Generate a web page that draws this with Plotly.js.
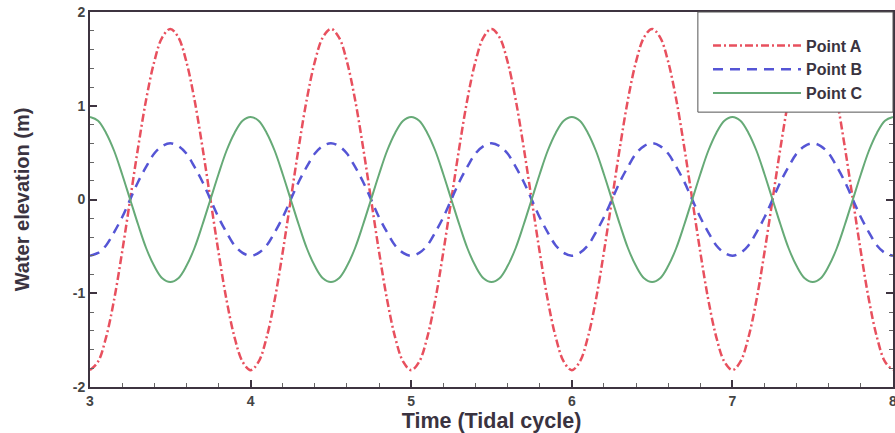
<!DOCTYPE html>
<html>
<head>
<meta charset="utf-8">
<script src="https://cdn.plot.ly/plotly-3.0.1.min.js"></script>
<style>html,body{margin:0;padding:0;background:#fff;}#chart{width:895px;height:433px;}</style>
</head>
<body>
<div id="chart"></div>
<script>
var time = [3.00,3.05,3.10,3.15,3.20,3.25,3.30,3.35,3.40,3.45,3.50,3.55,3.60,3.65,3.70,3.75,3.80,3.85,3.90,3.95,
            4.00,4.05,4.10,4.15,4.20,4.25,4.30,4.35,4.40,4.45,4.50,4.55,4.60,4.65,4.70,4.75,4.80,4.85,4.90,4.95,
            5.00,5.05,5.10,5.15,5.20,5.25,5.30,5.35,5.40,5.45,5.50,5.55,5.60,5.65,5.70,5.75,5.80,5.85,5.90,5.95,
            6.00,6.05,6.10,6.15,6.20,6.25,6.30,6.35,6.40,6.45,6.50,6.55,6.60,6.65,6.70,6.75,6.80,6.85,6.90,6.95,
            7.00,7.05,7.10,7.15,7.20,7.25,7.30,7.35,7.40,7.45,7.50,7.55,7.60,7.65,7.70,7.75,7.80,7.85,7.90,7.95,8.00];
var pointA = [-1.82,-1.73,-1.47,-1.07,-0.56,0,0.56,1.07,1.47,1.73,1.82,1.73,1.47,1.07,0.56,0,-0.56,-1.07,-1.47,-1.73,
              -1.82,-1.73,-1.47,-1.07,-0.56,0,0.56,1.07,1.47,1.73,1.82,1.73,1.47,1.07,0.56,0,-0.56,-1.07,-1.47,-1.73,
              -1.82,-1.73,-1.47,-1.07,-0.56,0,0.56,1.07,1.47,1.73,1.82,1.73,1.47,1.07,0.56,0,-0.56,-1.07,-1.47,-1.73,
              -1.82,-1.73,-1.47,-1.07,-0.56,0,0.56,1.07,1.47,1.73,1.82,1.73,1.47,1.07,0.56,0,-0.56,-1.07,-1.47,-1.73,
              -1.82,-1.73,-1.47,-1.07,-0.56,0,0.56,1.07,1.47,1.73,1.82,1.73,1.47,1.07,0.56,0,-0.56,-1.07,-1.47,-1.73,-1.82];
var pointB = [-0.60,-0.57,-0.49,-0.35,-0.19,0,0.19,0.35,0.49,0.57,0.60,0.57,0.49,0.35,0.19,0,-0.19,-0.35,-0.49,-0.57,
              -0.60,-0.57,-0.49,-0.35,-0.19,0,0.19,0.35,0.49,0.57,0.60,0.57,0.49,0.35,0.19,0,-0.19,-0.35,-0.49,-0.57,
              -0.60,-0.57,-0.49,-0.35,-0.19,0,0.19,0.35,0.49,0.57,0.60,0.57,0.49,0.35,0.19,0,-0.19,-0.35,-0.49,-0.57,
              -0.60,-0.57,-0.49,-0.35,-0.19,0,0.19,0.35,0.49,0.57,0.60,0.57,0.49,0.35,0.19,0,-0.19,-0.35,-0.49,-0.57,
              -0.60,-0.57,-0.49,-0.35,-0.19,0,0.19,0.35,0.49,0.57,0.60,0.57,0.49,0.35,0.19,0,-0.19,-0.35,-0.49,-0.57,-0.60];
var pointC = [0.88,0.84,0.71,0.52,0.27,0,-0.27,-0.52,-0.71,-0.84,-0.88,-0.84,-0.71,-0.52,-0.27,0,0.27,0.52,0.71,0.84,
              0.88,0.84,0.71,0.52,0.27,0,-0.27,-0.52,-0.71,-0.84,-0.88,-0.84,-0.71,-0.52,-0.27,0,0.27,0.52,0.71,0.84,
              0.88,0.84,0.71,0.52,0.27,0,-0.27,-0.52,-0.71,-0.84,-0.88,-0.84,-0.71,-0.52,-0.27,0,0.27,0.52,0.71,0.84,
              0.88,0.84,0.71,0.52,0.27,0,-0.27,-0.52,-0.71,-0.84,-0.88,-0.84,-0.71,-0.52,-0.27,0,0.27,0.52,0.71,0.84,
              0.88,0.84,0.71,0.52,0.27,0,-0.27,-0.52,-0.71,-0.84,-0.88,-0.84,-0.71,-0.52,-0.27,0,0.27,0.52,0.71,0.84,0.88];
var seriesNames = ['Point A','Point B','Point C'];
var xTickVals = [3,4,5,6,7,8];
var xTickText = ['3','4','5','6','7','8'];
var yTickVals = [-2,-1,0,1,2];
var yTickText = ['-2','-1','0','1','2'];

var axisColor = '#3e3440';
var textColor = '#3a3340';

var traces = [
  {x: time, y: pointA, name: seriesNames[0], mode: 'lines', line: {color: '#e8505e', width: 2.5, dash: '8px,3px,2px,3px', shape: 'spline'}},
  {x: time, y: pointB, name: seriesNames[1], mode: 'lines', line: {color: '#5555d5', width: 2.5, dash: '10px,7px', shape: 'spline'}},
  {x: time, y: pointC, name: seriesNames[2], mode: 'lines', line: {color: '#66aa77', width: 2, shape: 'spline'}}
];

var layout = {
  width: 895, height: 433,
  margin: {l: 90, r: 2, t: 12, b: 46},
  paper_bgcolor: '#ffffff', plot_bgcolor: '#ffffff',
  font: {family: 'Liberation Sans, Arial, sans-serif', color: textColor},
  showlegend: true,
  legend: {
    x: 0.7696, y: 0.956, xanchor: 'left', yanchor: 'top',
    bgcolor: 'rgba(0,0,0,0)', borderwidth: 0,
    font: {size: 16, weight: 'bold', color: textColor},
    itemwidth: 88, tracegroupgap: 0
  },
  shapes: [
    {type: 'rect', xref: 'paper', yref: 'paper', x0: 0.757, x1: 1, y0: 0.733, y1: 1,
     fillcolor: '#ffffff', line: {color: '#555555', width: 1}, layer: 'above'}
  ],
  xaxis: {
    range: [3, 8], tickmode: 'array', tickvals: xTickVals, ticktext: xTickText,
    showgrid: false, zeroline: false,
    showline: true, mirror: true, linecolor: axisColor, linewidth: 2,
    ticks: 'inside', ticklen: 7, tickwidth: 2, tickcolor: axisColor,
    minor: {dtick: 0.2, tick0: 3, ticks: 'inside', ticklen: 4, tickwidth: 1, tickcolor: '#666', showgrid: false},
    tickfont: {size: 14, weight: 'bold', color: '#444'},
    ticklabeloverflow: 'allow',
    title: {text: 'Time (Tidal cycle)', font: {size: 21.5, weight: 'bold', color: textColor}, standoff: 0}
  },
  yaxis: {
    range: [-2, 2], tickmode: 'array', tickvals: yTickVals, ticktext: yTickText,
    showgrid: false, zeroline: false,
    showline: true, mirror: 'ticks', linecolor: axisColor, linewidth: 2,
    ticks: 'inside', ticklen: 7, tickwidth: 2, tickcolor: axisColor,
    minor: {dtick: 0.2, tick0: -2, ticks: 'inside', ticklen: 4, tickwidth: 1, tickcolor: '#666', showgrid: false},
    tickfont: {size: 14, weight: 'bold', color: '#444'},
    title: {text: 'Water elevation (m)', font: {size: 20, weight: 'bold', color: textColor}, standoff: 38}
  }
};

Plotly.newPlot('chart', traces, layout, {displayModeBar: false, staticPlot: true});
</script>
</body>
</html>
